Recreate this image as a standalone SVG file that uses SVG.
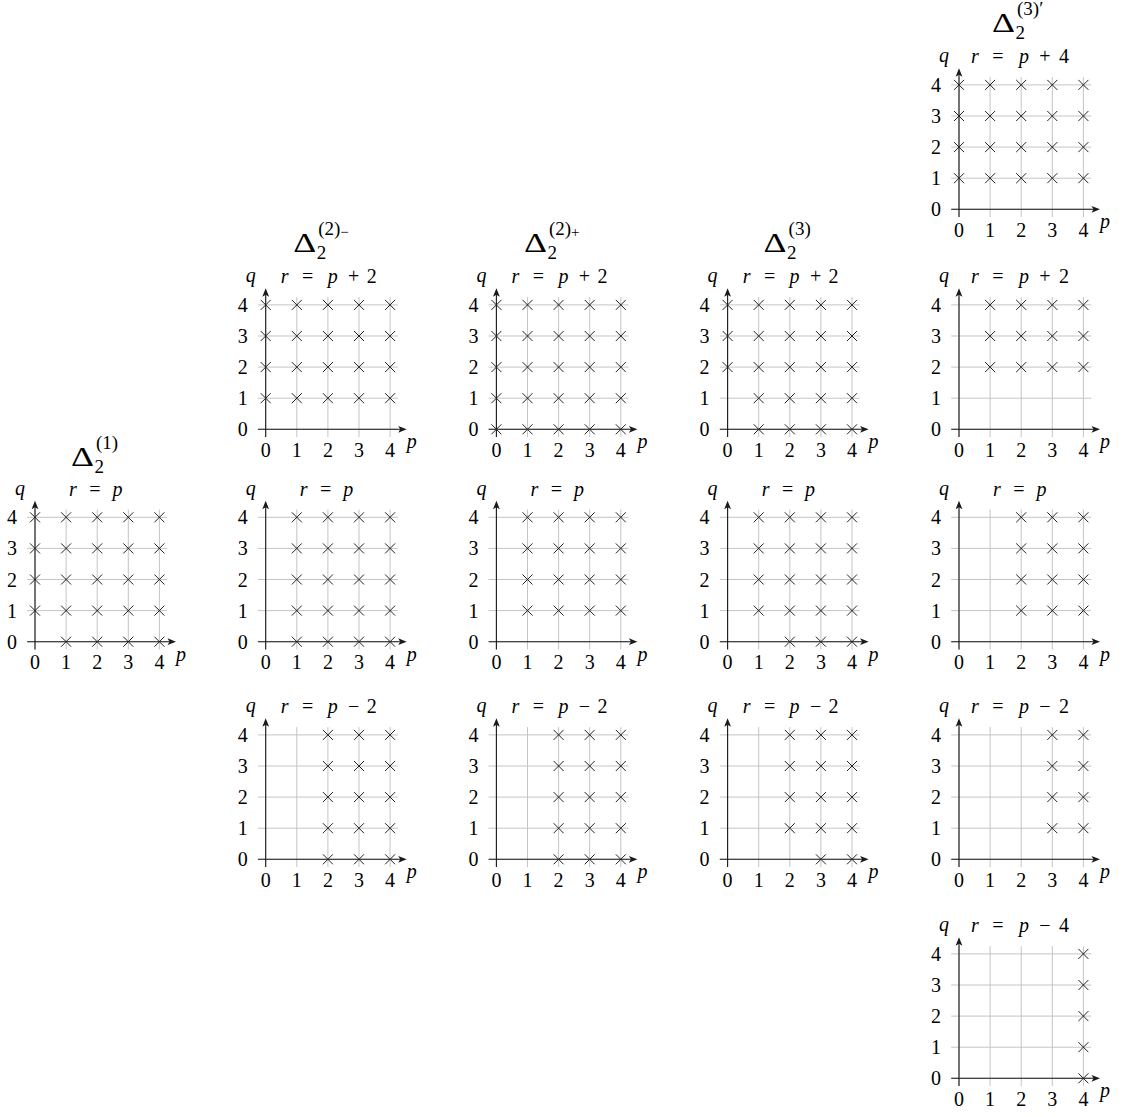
<svg xmlns="http://www.w3.org/2000/svg" width="1123" height="1117" viewBox="0 0 1123 1117" font-family="'Liberation Serif', 'DejaVu Serif', serif">
<style>
.g{stroke:#c4c4c4;stroke-width:1;fill:none}
.ax{stroke:#1a1a1a;stroke-width:1.1;fill:none}
.ah{fill:#1a1a1a}
.cr{stroke:#222;stroke-width:1;fill:none}
text{font-family:'Liberation Serif','DejaVu Serif',serif;fill:#000}
.n{font-size:20px}
.tk{text-anchor:middle}
.it{font-style:italic}
.D{font-size:28px}
.s{font-size:19px}
</style>
<defs>
<g id="frame">
<path class="g" d="M-7.8,-31.1H132.2M-7.8,-62.2H132.2M-7.8,-93.3H132.2M-7.8,-124.4H132.2M-7.8,0H132.2M0,7.8V-132.2M31.1,7.8V-132.2M62.2,7.8V-132.2M93.3,7.8V-132.2M124.4,7.8V-132.2"/>
<path class="ax" d="M-7.8,0H135M0,7.8V-135"/>
<path class="ah" d="M141,0L132.5,-3.4L134.5,0L132.5,3.4Z"/>
<path class="ah" d="M0,-141L-3.4,-132.5L0,-134.5L3.4,-132.5Z"/>
</g>
<path id="x" class="cr" d="M-5,-5L5,5M-5,5L5,-5"/>
<g id="r0"><use href="#x" x="0"/><use href="#x" x="31.1"/><use href="#x" x="62.2"/><use href="#x" x="93.3"/><use href="#x" x="124.4"/></g>
<g id="r1"><use href="#x" x="31.1"/><use href="#x" x="62.2"/><use href="#x" x="93.3"/><use href="#x" x="124.4"/></g>
<g id="r2"><use href="#x" x="62.2"/><use href="#x" x="93.3"/><use href="#x" x="124.4"/></g>
<g id="r3"><use href="#x" x="93.3"/><use href="#x" x="124.4"/></g>
<g id="r4"><use href="#x" x="124.4"/></g>
</defs>
<rect width="1123" height="1117" fill="#fff"/>

<!-- Column 0: Delta_2^(1) -->
<g id="d1-rp" transform="translate(35,641.7)">
<use href="#frame"/>
<use href="#r1"/><use href="#r0" y="-31.1"/><use href="#r0" y="-62.2"/><use href="#r0" y="-93.3"/><use href="#r0" y="-124.4"/>
<text class="n tk" x="0 31.1 62.2 93.3 124.4" y="27.5">01234</text>
<text class="n tk" x="-23 -23 -23 -23 -23" y="7 -24.1 -55.2 -86.3 -117.4">01234</text>
<text class="n it tk" x="-15" y="-147">q</text>
<text class="n it tk" x="146" y="19">p</text>
<text class="n tk" x="38 60 82.5" y="-146"><tspan class="it">r</tspan>=<tspan class="it">p</tspan></text>
<text class="D" x="36" y="-176" textLength="23" lengthAdjust="spacingAndGlyphs">Δ</text>
<text class="s" x="59.5" y="-169">2</text>
<text class="s" x="61" y="-193">(1)</text>
</g>

<!-- Column 1: Delta_2^(2)- -->
<g id="d2m-rp2" transform="translate(265.7,429.3)">
<use href="#frame"/>
<use href="#r0" y="-31.1"/><use href="#r0" y="-62.2"/><use href="#r0" y="-93.3"/><use href="#r0" y="-124.4"/>
<text class="n tk" x="0 31.1 62.2 93.3 124.4" y="27.5">01234</text>
<text class="n tk" x="-23 -23 -23 -23 -23" y="7 -24.1 -55.2 -86.3 -117.4">01234</text>
<text class="n it tk" x="-15" y="-147">q</text>
<text class="n it tk" x="146" y="19">p</text>
<text class="n tk" x="19 42 67 88 106" y="-146"><tspan class="it">r</tspan>=<tspan class="it">p</tspan>+2</text>
<text class="D" x="27.5" y="-177" textLength="23" lengthAdjust="spacingAndGlyphs">Δ</text>
<text class="s" x="51" y="-170">2</text>
<text class="s" x="52.5" y="-194">(2)<tspan font-size="15" dy="2">−</tspan></text>
</g>
<g id="d2m-rp" transform="translate(265.7,641.7)">
<use href="#frame"/>
<use href="#r1"/><use href="#r1" y="-31.1"/><use href="#r1" y="-62.2"/><use href="#r1" y="-93.3"/><use href="#r1" y="-124.4"/>
<text class="n tk" x="0 31.1 62.2 93.3 124.4" y="27.5">01234</text>
<text class="n tk" x="-23 -23 -23 -23 -23" y="7 -24.1 -55.2 -86.3 -117.4">01234</text>
<text class="n it tk" x="-15" y="-147">q</text>
<text class="n it tk" x="146" y="19">p</text>
<text class="n tk" x="38 60 82.5" y="-146"><tspan class="it">r</tspan>=<tspan class="it">p</tspan></text>
</g>
<g id="d2m-rm2" transform="translate(265.7,859.3)">
<use href="#frame"/>
<use href="#r2"/><use href="#r2" y="-31.1"/><use href="#r2" y="-62.2"/><use href="#r2" y="-93.3"/><use href="#r2" y="-124.4"/>
<text class="n tk" x="0 31.1 62.2 93.3 124.4" y="27.5">01234</text>
<text class="n tk" x="-23 -23 -23 -23 -23" y="7 -24.1 -55.2 -86.3 -117.4">01234</text>
<text class="n it tk" x="-15" y="-147">q</text>
<text class="n it tk" x="146" y="19">p</text>
<text class="n tk" x="19 42 67 88 106" y="-146"><tspan class="it">r</tspan>=<tspan class="it">p</tspan>−2</text>
</g>

<!-- Column 2: Delta_2^(2)+ -->
<g id="d2p-rp2" transform="translate(496.4,429.3)">
<use href="#frame"/>
<use href="#r0"/><use href="#r0" y="-31.1"/><use href="#r0" y="-62.2"/><use href="#r0" y="-93.3"/><use href="#r0" y="-124.4"/>
<text class="n tk" x="0 31.1 62.2 93.3 124.4" y="27.5">01234</text>
<text class="n tk" x="-23 -23 -23 -23 -23" y="7 -24.1 -55.2 -86.3 -117.4">01234</text>
<text class="n it tk" x="-15" y="-147">q</text>
<text class="n it tk" x="146" y="19">p</text>
<text class="n tk" x="19 42 67 88 106" y="-146"><tspan class="it">r</tspan>=<tspan class="it">p</tspan>+2</text>
<text class="D" x="27.5" y="-177" textLength="23" lengthAdjust="spacingAndGlyphs">Δ</text>
<text class="s" x="51" y="-170">2</text>
<text class="s" x="52.5" y="-194">(2)<tspan font-size="15" dy="2">+</tspan></text>
</g>
<g id="d2p-rp" transform="translate(496.4,641.7)">
<use href="#frame"/>
<use href="#r1" y="-31.1"/><use href="#r1" y="-62.2"/><use href="#r1" y="-93.3"/><use href="#r1" y="-124.4"/>
<text class="n tk" x="0 31.1 62.2 93.3 124.4" y="27.5">01234</text>
<text class="n tk" x="-23 -23 -23 -23 -23" y="7 -24.1 -55.2 -86.3 -117.4">01234</text>
<text class="n it tk" x="-15" y="-147">q</text>
<text class="n it tk" x="146" y="19">p</text>
<text class="n tk" x="38 60 82.5" y="-146"><tspan class="it">r</tspan>=<tspan class="it">p</tspan></text>
</g>
<g id="d2p-rm2" transform="translate(496.4,859.3)">
<use href="#frame"/>
<use href="#r2"/><use href="#r2" y="-31.1"/><use href="#r2" y="-62.2"/><use href="#r2" y="-93.3"/><use href="#r2" y="-124.4"/>
<text class="n tk" x="0 31.1 62.2 93.3 124.4" y="27.5">01234</text>
<text class="n tk" x="-23 -23 -23 -23 -23" y="7 -24.1 -55.2 -86.3 -117.4">01234</text>
<text class="n it tk" x="-15" y="-147">q</text>
<text class="n it tk" x="146" y="19">p</text>
<text class="n tk" x="19 42 67 88 106" y="-146"><tspan class="it">r</tspan>=<tspan class="it">p</tspan>−2</text>
</g>

<!-- Column 3: Delta_2^(3) -->
<g id="d3-rp2" transform="translate(727.6,429.3)">
<use href="#frame"/>
<use href="#r1"/><use href="#r1" y="-31.1"/><use href="#r0" y="-62.2"/><use href="#r0" y="-93.3"/><use href="#r0" y="-124.4"/>
<text class="n tk" x="0 31.1 62.2 93.3 124.4" y="27.5">01234</text>
<text class="n tk" x="-23 -23 -23 -23 -23" y="7 -24.1 -55.2 -86.3 -117.4">01234</text>
<text class="n it tk" x="-15" y="-147">q</text>
<text class="n it tk" x="146" y="19">p</text>
<text class="n tk" x="19 42 67 88 106" y="-146"><tspan class="it">r</tspan>=<tspan class="it">p</tspan>+2</text>
<text class="D" x="36" y="-177" textLength="23" lengthAdjust="spacingAndGlyphs">Δ</text>
<text class="s" x="59.5" y="-170">2</text>
<text class="s" x="61" y="-194">(3)</text>
</g>
<g id="d3-rp" transform="translate(727.6,641.7)">
<use href="#frame"/>
<use href="#r2"/><use href="#r1" y="-31.1"/><use href="#r1" y="-62.2"/><use href="#r1" y="-93.3"/><use href="#r1" y="-124.4"/>
<text class="n tk" x="0 31.1 62.2 93.3 124.4" y="27.5">01234</text>
<text class="n tk" x="-23 -23 -23 -23 -23" y="7 -24.1 -55.2 -86.3 -117.4">01234</text>
<text class="n it tk" x="-15" y="-147">q</text>
<text class="n it tk" x="146" y="19">p</text>
<text class="n tk" x="38 60 82.5" y="-146"><tspan class="it">r</tspan>=<tspan class="it">p</tspan></text>
</g>
<g id="d3-rm2" transform="translate(727.6,859.3)">
<use href="#frame"/>
<use href="#r3"/><use href="#r2" y="-31.1"/><use href="#r2" y="-62.2"/><use href="#r2" y="-93.3"/><use href="#r2" y="-124.4"/>
<text class="n tk" x="0 31.1 62.2 93.3 124.4" y="27.5">01234</text>
<text class="n tk" x="-23 -23 -23 -23 -23" y="7 -24.1 -55.2 -86.3 -117.4">01234</text>
<text class="n it tk" x="-15" y="-147">q</text>
<text class="n it tk" x="146" y="19">p</text>
<text class="n tk" x="19 42 67 88 106" y="-146"><tspan class="it">r</tspan>=<tspan class="it">p</tspan>−2</text>
</g>

<!-- Column 4: Delta_2^(3)' -->
<g id="d3p-rp4" transform="translate(959,209.3)">
<use href="#frame"/>
<use href="#r0" y="-31.1"/><use href="#r0" y="-62.2"/><use href="#r0" y="-93.3"/><use href="#r0" y="-124.4"/>
<text class="n tk" x="0 31.1 62.2 93.3 124.4" y="27.5">01234</text>
<text class="n tk" x="-23 -23 -23 -23 -23" y="7 -24.1 -55.2 -86.3 -117.4">01234</text>
<text class="n it tk" x="-15" y="-147">q</text>
<text class="n it tk" x="146" y="19">p</text>
<text class="n tk" x="16 39 65 86 105" y="-146"><tspan class="it">r</tspan>=<tspan class="it">p</tspan>+4</text>
<text class="D" x="33" y="-177" textLength="23" lengthAdjust="spacingAndGlyphs">Δ</text>
<text class="s" x="56.5" y="-170">2</text>
<text class="s" x="58" y="-194">(3)′</text>
</g>
<g id="d3p-rp2" transform="translate(959,429.3)">
<use href="#frame"/>
<use href="#r1" y="-62.2"/><use href="#r1" y="-93.3"/><use href="#r1" y="-124.4"/>
<text class="n tk" x="0 31.1 62.2 93.3 124.4" y="27.5">01234</text>
<text class="n tk" x="-23 -23 -23 -23 -23" y="7 -24.1 -55.2 -86.3 -117.4">01234</text>
<text class="n it tk" x="-15" y="-147">q</text>
<text class="n it tk" x="146" y="19">p</text>
<text class="n tk" x="16 39 65 86 105" y="-146"><tspan class="it">r</tspan>=<tspan class="it">p</tspan>+2</text>
</g>
<g id="d3p-rp" transform="translate(959,641.7)">
<use href="#frame"/>
<use href="#r2" y="-31.1"/><use href="#r2" y="-62.2"/><use href="#r2" y="-93.3"/><use href="#r2" y="-124.4"/>
<text class="n tk" x="0 31.1 62.2 93.3 124.4" y="27.5">01234</text>
<text class="n tk" x="-23 -23 -23 -23 -23" y="7 -24.1 -55.2 -86.3 -117.4">01234</text>
<text class="n it tk" x="-15" y="-147">q</text>
<text class="n it tk" x="146" y="19">p</text>
<text class="n tk" x="38 60 82.5" y="-146"><tspan class="it">r</tspan>=<tspan class="it">p</tspan></text>
</g>
<g id="d3p-rm2" transform="translate(959,859.3)">
<use href="#frame"/>
<use href="#r3" y="-31.1"/><use href="#r3" y="-62.2"/><use href="#r3" y="-93.3"/><use href="#r3" y="-124.4"/>
<text class="n tk" x="0 31.1 62.2 93.3 124.4" y="27.5">01234</text>
<text class="n tk" x="-23 -23 -23 -23 -23" y="7 -24.1 -55.2 -86.3 -117.4">01234</text>
<text class="n it tk" x="-15" y="-147">q</text>
<text class="n it tk" x="146" y="19">p</text>
<text class="n tk" x="16 39 65 86 105" y="-146"><tspan class="it">r</tspan>=<tspan class="it">p</tspan>−2</text>
</g>
<g id="d3p-rm4" transform="translate(959,1078.3)">
<use href="#frame"/>
<use href="#r4"/><use href="#r4" y="-31.1"/><use href="#r4" y="-62.2"/><use href="#r4" y="-93.3"/><use href="#r4" y="-124.4"/>
<text class="n tk" x="0 31.1 62.2 93.3 124.4" y="27.5">01234</text>
<text class="n tk" x="-23 -23 -23 -23 -23" y="7 -24.1 -55.2 -86.3 -117.4">01234</text>
<text class="n it tk" x="-15" y="-147">q</text>
<text class="n it tk" x="146" y="19">p</text>
<text class="n tk" x="16 39 65 86 105" y="-146"><tspan class="it">r</tspan>=<tspan class="it">p</tspan>−4</text>
</g>
<g id="connectors"/>
</svg>
